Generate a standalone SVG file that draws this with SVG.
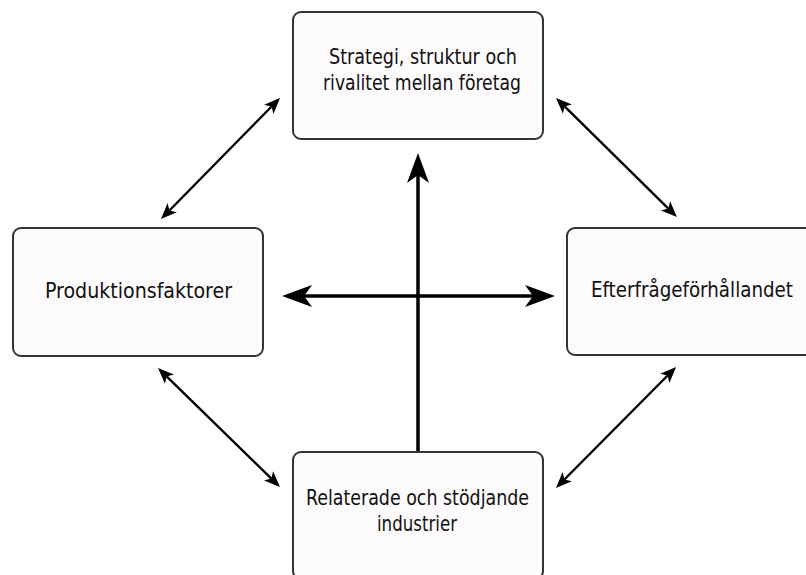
<svg xmlns="http://www.w3.org/2000/svg" width="806" height="575" viewBox="0 0 806 575">
<style>
.box{fill:#fcfafb;stroke:#333;stroke-width:2}
.lbl{font-family:"DejaVu Sans Condensed","DejaVu Sans",sans-serif;font-size:22px;fill:#111;text-anchor:middle}
.thick{stroke:#000;stroke-width:3.5;fill:none}
.thin{stroke:#000;stroke-width:2.4;fill:none}
</style>
<defs>
<marker id="bigHead" markerUnits="userSpaceOnUse" markerWidth="32" markerHeight="24" refX="8" refY="11" orient="auto-start-reverse" viewBox="0 0 32 22">
<path d="M0,0 L30,11 L0,22 L8,11 Z" fill="#000"/>
</marker>
<marker id="smallHead" markerUnits="userSpaceOnUse" markerWidth="18" markerHeight="14" refX="4" refY="6.5" orient="auto-start-reverse" viewBox="0 0 18 13">
<path d="M0,0 L16,6.5 L0,13 L4,6.5 Z" fill="#000"/>
</marker>
</defs>
<rect width="806" height="575" fill="#fff"/>
<g id="connectors">
<line class="thick" x1="418" y1="451" x2="418" y2="175" marker-end="url(#bigHead)"/>
<line class="thick" x1="304" y1="296" x2="533" y2="296" marker-start="url(#bigHead)" marker-end="url(#bigHead)"/>
<line class="thin" x1="271.6" y1="106.5" x2="169.4" y2="210.5" marker-start="url(#smallHead)" marker-end="url(#smallHead)"/>
<line class="thin" x1="564.6" y1="106.4" x2="668.4" y2="208.6" marker-start="url(#smallHead)" marker-end="url(#smallHead)"/>
<line class="thin" x1="166.6" y1="376.4" x2="271.4" y2="478.6" marker-start="url(#smallHead)" marker-end="url(#smallHead)"/>
<line class="thin" x1="667.6" y1="375.5" x2="564.4" y2="479.5" marker-start="url(#smallHead)" marker-end="url(#smallHead)"/>
</g>
<g id="strategi">
<rect class="box" x="293" y="12" width="250" height="127" rx="8"/>
<text class="lbl" x="423" y="64" textLength="188" lengthAdjust="spacingAndGlyphs">Strategi, struktur och</text>
<text class="lbl" x="422" y="90" textLength="198" lengthAdjust="spacingAndGlyphs">rivalitet mellan företag</text>
</g>
<g id="produktionsfaktorer">
<rect class="box" x="13" y="228" width="250" height="128" rx="8"/>
<text class="lbl" x="138.5" y="298" textLength="187" lengthAdjust="spacingAndGlyphs">Produktionsfaktorer</text>
</g>
<g id="efterfragan">
<rect class="box" x="567" y="228" width="250" height="127" rx="8"/>
<text class="lbl" x="692" y="297" textLength="202" lengthAdjust="spacingAndGlyphs" style="font-size:21px">Efterfrågeförhållandet</text>
</g>
<g id="relaterade">
<rect class="box" x="293" y="452" width="250" height="127" rx="8"/>
<text class="lbl" x="417.5" y="505" textLength="223" lengthAdjust="spacingAndGlyphs">Relaterade och stödjande</text>
<text class="lbl" x="417" y="531" textLength="80" lengthAdjust="spacingAndGlyphs">industrier</text>
</g>
</svg>
